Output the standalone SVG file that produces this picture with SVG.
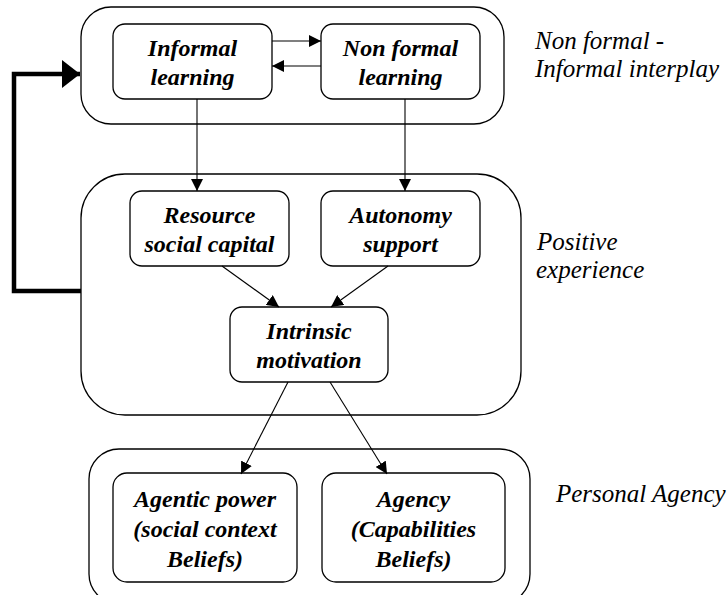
<svg xmlns="http://www.w3.org/2000/svg" width="728" height="595" viewBox="0 0 728 595">
<style>
.cont{fill:#fff;stroke:#000;stroke-width:1.3}
.box{fill:#fff;stroke:#000;stroke-width:1.3}
.t{font-family:'Liberation Serif','DejaVu Serif','Times New Roman',Times,serif;font-size:24px;font-weight:bold;font-style:italic;text-anchor:middle;fill:#000}
.lab{font-family:'Liberation Serif','DejaVu Serif','Times New Roman',Times,serif;font-size:25px;font-style:italic;fill:#000}
.c{stroke:#000;stroke-width:1.1;fill:none}
</style>
<defs>
<marker id="ah" viewBox="0 0 10 10" refX="10" refY="5" markerWidth="12" markerHeight="12" markerUnits="userSpaceOnUse" orient="auto"><path d="M0,0 L10,5 L0,10 Z" fill="#000"/></marker>
<marker id="big" viewBox="0 0 10 10" refX="10" refY="5" markerWidth="18" markerHeight="28" markerUnits="userSpaceOnUse" orient="auto" preserveAspectRatio="none"><path d="M0,0 L10,5 L0,10 Z" fill="#000"/></marker>
</defs>
<rect width="728" height="595" fill="#fff"/>
<g id="containers">
<rect id="c-top" class="cont" x="81" y="7" width="423" height="117" rx="30" ry="30"/>
<rect id="c-mid" class="cont" x="81" y="174" width="440" height="241" rx="44" ry="44"/>
<rect id="c-bot" class="cont" x="89" y="449" width="441" height="155" rx="30" ry="30"/>
</g>
<g id="informal"><rect class="box" x="113" y="24" width="159" height="75" rx="12"/><text class="t" x="192.5" y="56" font-family="Liberation Serif">Informal</text><text class="t" x="192.5" y="85">learning</text></g>
<g id="nonformal"><rect class="box" x="321" y="24" width="159" height="75" rx="12"/><text class="t" x="400.5" y="56">Non formal</text><text class="t" x="400.5" y="85">learning</text></g>
<g id="resource"><rect class="box" x="130" y="191" width="159" height="75" rx="12"/><text class="t" x="209.5" y="223">Resource</text><text class="t" x="209.5" y="252">social capital</text></g>
<g id="autonomy"><rect class="box" x="321" y="191" width="159" height="75" rx="12"/><text class="t" x="400.5" y="223">Autonomy</text><text class="t" x="400.5" y="252">support</text></g>
<g id="intrinsic"><rect class="box" x="230" y="307" width="158" height="75" rx="12"/><text class="t" x="309" y="339">Intrinsic</text><text class="t" x="309" y="368">motivation</text></g>
<g id="agentic"><rect class="box" x="113" y="473" width="184" height="109" rx="14"/><text class="t" x="205" y="507">Agentic power</text><text class="t" x="205" y="537">(social context</text><text class="t" x="205" y="567">Beliefs)</text></g>
<g id="agency"><rect class="box" x="322" y="473" width="183" height="109" rx="14"/><text class="t" x="413.5" y="507">Agency</text><text class="t" x="413.5" y="537">(Capabilities</text><text class="t" x="413.5" y="567">Beliefs)</text></g>
<g id="labels">
<text class="lab" x="535" y="49">Non formal -</text>
<text class="lab" x="535" y="77">Informal interplay</text>
<text class="lab" x="537" y="250">Positive</text>
<text class="lab" x="536" y="278">experience</text>
<text class="lab" x="556" y="502">Personal Agency</text>
</g>
<g id="connectors">
<line class="c" x1="272" y1="41" x2="321" y2="41" marker-end="url(#ah)"/>
<line class="c" x1="321" y1="66" x2="272" y2="66" marker-end="url(#ah)"/>
<line class="c" x1="197" y1="99" x2="197" y2="191" marker-end="url(#ah)"/>
<line class="c" x1="405" y1="99" x2="405" y2="191" marker-end="url(#ah)"/>
<line class="c" x1="222" y1="266" x2="279" y2="307" marker-end="url(#ah)"/>
<line class="c" x1="388" y1="266" x2="331" y2="307" marker-end="url(#ah)"/>
<line class="c" x1="288" y1="382" x2="241" y2="474" marker-end="url(#ah)"/>
<line class="c" x1="330" y1="382" x2="387" y2="474" marker-end="url(#ah)"/>
<polyline points="81,291 14,291 14,74 80,74" fill="none" stroke="#000" stroke-width="4.5" marker-end="url(#big)"/>
</g>
</svg>
